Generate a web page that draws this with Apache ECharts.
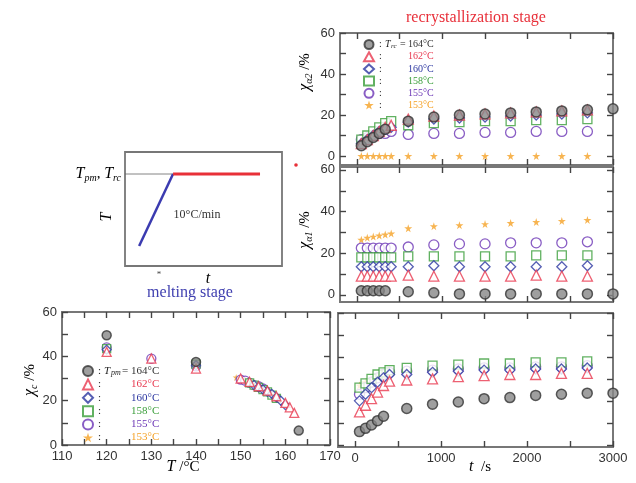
<!DOCTYPE html>
<html><head><meta charset="utf-8">
<script src="https://cdn.jsdelivr.net/npm/echarts@6/dist/echarts.min.js"></script>
<style>html,body{margin:0;padding:0;background:#fff}#c{width:636px;height:483px}</style>
</head><body><div id="c"></div>
<script>
// ---------- data ----------
const seriesNames = ['164', '162', '160', '158', '155', '153'];
const tGray  = [50, 120, 190, 260, 330, 600, 900, 1200, 1500, 1800, 2100, 2400, 2700, 3000];
const tOther = [50, 120, 190, 260, 330, 400, 600, 900, 1200, 1500, 1800, 2100, 2400, 2700];

// chi_alpha2 (top right)
const a2Gray   = [5, 7, 9, 11, 13, 17, 19, 20, 20.5, 21, 21.5, 22, 22.5, 23];
const a2Red    = [6, 8, 10, 12, 14, 15, 18, 19.5, 20, 20.5, 21, 21.5, 22, 22.5];
const a2Blue   = [6, 8, 10, 12, 13, 14, 16.5, 18, 18.5, 19, 19.5, 20, 20.5, 21];
const a2Green  = [8, 10, 12, 14, 16, 17, 15, 16, 16.5, 17, 17, 17.5, 17.5, 18];
const a2Purple = [8, 9, 10, 11, 11, 12, 10.5, 11, 11, 11.5, 11.5, 12, 12, 12];
const a2Orange = [0, 0, 0, 0, 0, 0, 0, 0, 0, 0, 0, 0, 0, 0];

// chi_alpha1 (middle right)
const a1Gray   = [2, 2, 2, 2, 2, 1.5, 1, 0.5, 0.5, 0.5, 0.5, 0.5, 0.5, 0.5];
const a1Red    = [9, 9, 9, 9, 9, 9, 9.5, 9, 9, 9, 9, 9.5, 9, 9];
const a1Blue   = [13.5, 13.5, 13.5, 13.5, 13.5, 13.5, 13.5, 14, 13.5, 13.5, 13.5, 13.5, 13.5, 14];
const a1Green  = [18, 18, 18, 18, 18, 18, 18.5, 18.5, 18.5, 18.5, 18.5, 19, 19, 19];
const a1Purple = [22.5, 22.5, 22.5, 22.5, 22.5, 22.5, 23, 24, 24.5, 24.5, 25, 25, 25, 25.5];
const a1Orange = [26.5, 27.5, 28, 28.5, 29, 29.5, 32, 33, 33.5, 34, 34.5, 35, 35.5, 36];

// chi_c vs time (bottom right)
const cGray   = [6, 7.5, 9, 11, 13, 16.5, 18.5, 19.5, 21, 21.5, 22.5, 23, 23.5, 23.5];
const cRed    = [15, 18, 21, 24, 27, 29, 29.5, 30, 31, 31.5, 32, 32, 32.5, 32.5];
const cBlue   = [20, 23, 26, 28.5, 30.5, 32, 32, 33, 33.5, 34, 34, 34.5, 34.5, 35];
const cGreen  = [26, 28, 30, 32, 33, 34, 35, 36, 36.5, 37, 37, 37.5, 37.5, 38];
const cPurple = [23, 26, 28.5, 30.5, 32, 33, 33.5, 34, 34.5, 35, 35, 35.5, 35.5, 36];
const cOrange = [27, 28.5, 29.5, 30.5, 31.5, 32.5, 34, 34.5, 35, 35.5, 35.5, 36, 36, 36.5];

// chi_c vs temperature (bottom left)
const mGrayT   = [120, 140, 163];
const mGrayC   = [49.5, 37.5, 6.5];
const mRedT    = [120, 130, 140, 150, 152, 154, 156, 158, 160, 161, 162];
const mRedC    = [42, 39, 34.5, 30, 28.5, 26.5, 24.5, 22, 19, 17, 14.5];
const mBlueT   = [120, 140, 153, 154, 155, 156, 157, 158, 159, 160];
const mBlueC   = [43, 36, 27, 26, 25, 24, 23, 21.5, 20, 18];
const mGreenT  = [120, 140, 152, 153, 154, 155, 156, 157, 158];
const mGreenC  = [43.5, 36.5, 28, 27, 26, 25, 24, 22.5, 21];
const mPurpleT = [120, 130, 140, 150, 151, 152, 153, 154, 155];
const mPurpleC = [44, 39, 35.5, 29.5, 29, 28, 27, 26.5, 25.5];
const mOrangeT = [149, 150, 151, 152, 153];
const mOrangeC = [30.5, 30, 29.5, 29, 28];

// schematic inset (arbitrary units 0-100)
const schemBlueX = [9, 30.6];
const schemBlueY = [17.5, 80.7];
const schemRedX = [30.6, 86];
const schemRedY = [80.7, 80.7];
const schemGuideX = [0, 30.6];
const schemGuideY = [80.7, 80.7];

// tick labels
const timeLabels = [0, 1000, 2000, 3000];
const timeTicks = [0, 500, 1000, 1500, 2000, 2500, 3000];
const chiLabels = [0, 20, 40, 60];
const chiTicks = [0, 10, 20, 30, 40, 50, 60];
const tempLabels = [110, 120, 130, 140, 150, 160, 170];
const tempTicks = [110, 115, 120, 125, 130, 135, 140, 145, 150, 155, 160, 165, 170];

// ---------- styles ----------
const SANS = 'Liberation Sans, Arial, sans-serif';
const SERIF = 'Liberation Serif, Times New Roman, serif';
const colRed = '#e8384f', colBlue = '#2b36a0', colGreen = '#3a9e3a', colPurple = '#6b35b5', colOrange = '#f5a125';
const STAR = 'path://M50,0 L61,35 L98,35 L68,57 L79,91 L50,70 L21,91 L32,57 L2,35 L39,35 Z';
const styleOf = [
  {symbol: 'circle', itemStyle: {color: '#878787', borderColor: '#333', borderWidth: 1.5}},
  {symbol: 'triangle', itemStyle: {color: '#fff', borderColor: colRed, borderWidth: 1.3}},
  {symbol: 'diamond', itemStyle: {color: '#fff', borderColor: colBlue, borderWidth: 1.3}},
  {symbol: 'rect', itemStyle: {color: '#fff', borderColor: colGreen, borderWidth: 1.3}},
  {symbol: 'circle', itemStyle: {color: '#fff', borderColor: colPurple, borderWidth: 1.3}},
  {symbol: STAR, itemStyle: {color: colOrange}}
];
const textColors = ['#333', colRed, colBlue, colGreen, colPurple, colOrange];

function pts(xs, ys) { return xs.map((x, i) => [x, ys[i]]); }

const panels = [
  {ax: 0, xs: [tGray, tOther, tOther, tOther, tOther, tOther], ys: [a2Gray, a2Red, a2Blue, a2Green, a2Purple, a2Orange], size: 10},
  {ax: 1, xs: [tGray, tOther, tOther, tOther, tOther, tOther], ys: [a1Gray, a1Red, a1Blue, a1Green, a1Purple, a1Orange], size: 10},
  {ax: 2, xs: [tGray, tOther, tOther, tOther, tOther, tOther], ys: [cGray, cRed, cBlue, cGreen, cPurple, cOrange], size: 10},
  {ax: 3, xs: [mGrayT, mRedT, mBlueT, mGreenT, mPurpleT, mOrangeT], ys: [mGrayC, mRedC, mBlueC, mGreenC, mPurpleC, mOrangeC], size: 9}
];

const series = [];
const drawOrder = [5, 4, 3, 2, 1, 0];
panels.forEach(p => {
  drawOrder.forEach(k => {
    const st = styleOf[k];
    series.push({
      type: 'scatter', name: seriesNames[k],
      xAxisIndex: p.ax, yAxisIndex: p.ax,
      symbol: st.symbol,
      symbolSize: k === 5 ? p.size - 2 : (k === 3 ? p.size - 1 : p.size),
      itemStyle: st.itemStyle,
      data: pts(p.xs[k], p.ys[k]),
      clip: false, silent: true, animation: false
    });
  });
});
series.push({type: 'line', xAxisIndex: 4, yAxisIndex: 4, data: pts(schemGuideX, schemGuideY), symbol: 'none', lineStyle: {color: '#666', width: 0.8}, silent: true, animation: false});
series.push({type: 'line', xAxisIndex: 4, yAxisIndex: 4, data: pts(schemBlueX, schemBlueY), symbol: 'none', lineStyle: {color: '#3b3bb0', width: 2.5}, silent: true, animation: false});
series.push({type: 'line', xAxisIndex: 4, yAxisIndex: 4, data: pts(schemRedX, schemRedY), symbol: 'none', lineStyle: {color: '#e83038', width: 3}, silent: true, animation: false});

// ---------- axes ----------
function axis(grid, pos, min, max, labels, ticks, showLabel) {
  return {
    type: 'value', gridIndex: grid, position: pos, min: min, max: max,
    axisLine: {show: true, onZero: false, lineStyle: {color: '#777', width: 1.8}},
    splitLine: {show: false},
    axisTick: {show: true, inside: true, length: 6, customValues: ticks, lineStyle: {color: '#444', width: 1.4}},
    axisLabel: {show: showLabel, customValues: labels, formatter: v => String(v), fontFamily: SANS, fontSize: 13, color: '#333', margin: 5}
  };
}
const xAxes = [
  axis(0, 'bottom', -200, 3000, timeLabels, timeTicks, false),
  axis(1, 'bottom', -200, 3000, timeLabels, timeTicks, false),
  axis(2, 'bottom', -200, 3000, timeLabels, timeTicks, true),
  axis(3, 'bottom', 110, 170, tempLabels, tempTicks, true),
  {type: 'value', gridIndex: 4, min: 0, max: 100, show: false},
  axis(0, 'top', -200, 3000, timeLabels, timeTicks, false),
  axis(1, 'top', -200, 3000, timeLabels, timeTicks, false),
  axis(2, 'top', -200, 3000, timeLabels, timeTicks, false),
  axis(3, 'top', 110, 170, tempLabels, tempTicks, false)
];
const yAxes = [
  axis(0, 'left', -4.4, 60, chiLabels, chiTicks, true),
  axis(1, 'left', -3.4, 61.4, chiLabels, chiTicks, true),
  axis(2, 'left', -1, 60, chiLabels, chiTicks, false),
  axis(3, 'left', 0, 60, chiLabels, chiTicks, true),
  {type: 'value', gridIndex: 4, min: 0, max: 100, show: false},
  axis(0, 'right', -4.4, 60, chiLabels, chiTicks, false),
  axis(1, 'right', -3.4, 61.4, chiLabels, chiTicks, false),
  axis(2, 'right', -1, 60, chiLabels, chiTicks, false),
  axis(3, 'right', 0, 60, chiLabels, chiTicks, false)
];
const gridBase = {show: true, borderColor: '#777', borderWidth: 1.8, backgroundColor: 'transparent', containLabel: false};
const grids = [
  Object.assign({left: 340, top: 33, width: 273, height: 132}, gridBase),
  Object.assign({left: 340, top: 167, width: 273, height: 135}, gridBase),
  Object.assign({left: 338, top: 313, width: 275, height: 134}, gridBase),
  Object.assign({left: 62, top: 312, width: 268, height: 133}, gridBase),
  Object.assign({left: 125, top: 152, width: 157, height: 114}, gridBase)
];

// ---------- legends ----------
function legendRich(fs, kw, iw, sw, ew, gw) {
  const r = {
    k: {width: kw, fontSize: fs, fontFamily: SERIF, color: '#222'},
    i: {width: iw, fontSize: fs, fontFamily: SERIF, fontStyle: 'italic', color: '#222'},
    s: {width: sw, fontSize: fs - 3, fontFamily: SERIF, fontStyle: 'italic', color: '#222', lineHeight: 7, verticalAlign: 'bottom'},
    e: {width: ew, fontSize: fs, fontFamily: SERIF, color: '#222'},
    g: {width: gw, fontSize: fs}
  };
  textColors.forEach((c, j) => { r['t' + j] = {fontSize: fs, fontFamily: SERIF, color: c}; });
  return r;
}
function legendFmt(sub) {
  return function (name) {
    const j = seriesNames.indexOf(name);
    if (j === 0) return '{k|:}{i|T}{s|' + sub + '}{e|=}{t0|' + name + '°C}';
    return '{k|:}{g| }{t' + j + '|' + name + '°C}';
  };
}
const legends = [
  {data: seriesNames, orient: 'vertical', left: 358, top: 34, itemWidth: 10, itemHeight: 9, itemGap: 1.2, selectedMode: false,
   formatter: legendFmt('rc'), textStyle: {fontFamily: SERIF, fontSize: 10, lineHeight: 10, rich: legendRich(10, 6, 6, 9, 8, 23)}},
  {data: seriesNames, orient: 'vertical', left: 77, top: 360, itemWidth: 10, itemHeight: 10, itemGap: 1.4, selectedMode: false,
   formatter: legendFmt('pm'), textStyle: {fontFamily: SERIF, fontSize: 11, lineHeight: 11, rich: legendRich(11, 6, 7, 11, 9, 27)}}
];

// ---------- texts ----------
const titleRich = {
  i: {fontFamily: SERIF, fontStyle: 'italic', fontSize: 16, color: '#222', lineHeight: 18},
  s: {fontFamily: SERIF, fontStyle: 'italic', fontSize: 10, color: '#222', lineHeight: 9, verticalAlign: 'bottom'},
  n: {fontFamily: SERIF, fontSize: 15, color: '#222', lineHeight: 18}
};
function label(x, y, text, rot, extra) {
  return Object.assign({type: 'text', x: x, y: y, rotation: rot || 0, silent: true,
    style: {text: text, rich: titleRich, align: 'center', verticalAlign: 'middle'}}, extra || {});
}
const graphics = [
  {type: 'text', x: 476, y: 18, silent: true, style: {text: 'recrystallization stage', font: '16px ' + SERIF, fill: '#e8303a', align: 'center', verticalAlign: 'middle'}},
  {type: 'text', x: 190, y: 293, silent: true, style: {text: 'melting stage', font: '16px ' + SERIF, fill: '#4040b0', align: 'center', verticalAlign: 'middle'}},
  label(305, 72, '{i|χ}{s|α2}{n| /%}', Math.PI / 2),
  label(305, 230, '{i|χ}{s|α1}{n| /%}', Math.PI / 2),
  label(30, 380, '{i|χ}{s|c}{n| /%}', Math.PI / 2),
  label(183, 467, '{i|T}{n| /°C}', 0),
  label(480, 467, '{i|t}{n|  /s}', 0),
  {type: 'text', x: 121, y: 174, silent: true, style: {text: '{i|T}{s|pm}{n|, }{i|T}{s|rc}', rich: titleRich, align: 'right', verticalAlign: 'middle'}},
  label(107, 217, '{i|T}', Math.PI / 2),
  {type: 'text', x: 197, y: 215, silent: true, style: {text: '10°C/min', font: '12px ' + SERIF, fill: '#333', align: 'center', verticalAlign: 'middle'}},
  label(208, 279, '{i|t}', 0),
  {type: 'text', x: 159, y: 275, silent: true, style: {text: '*', font: '9px ' + SERIF, fill: '#444', align: 'center', verticalAlign: 'middle'}},
  {type: 'circle', silent: true, shape: {cx: 296, cy: 165, r: 1.8}, style: {fill: '#e83038'}}
];

const chart = echarts.init(document.getElementById('c'), null, {renderer: 'canvas'});
chart.setOption({
  backgroundColor: '#fff',
  animation: false,
  grid: grids,
  xAxis: xAxes,
  yAxis: yAxes,
  legend: legends,
  series: series,
  graphic: graphics
});
</script>
</body></html>
